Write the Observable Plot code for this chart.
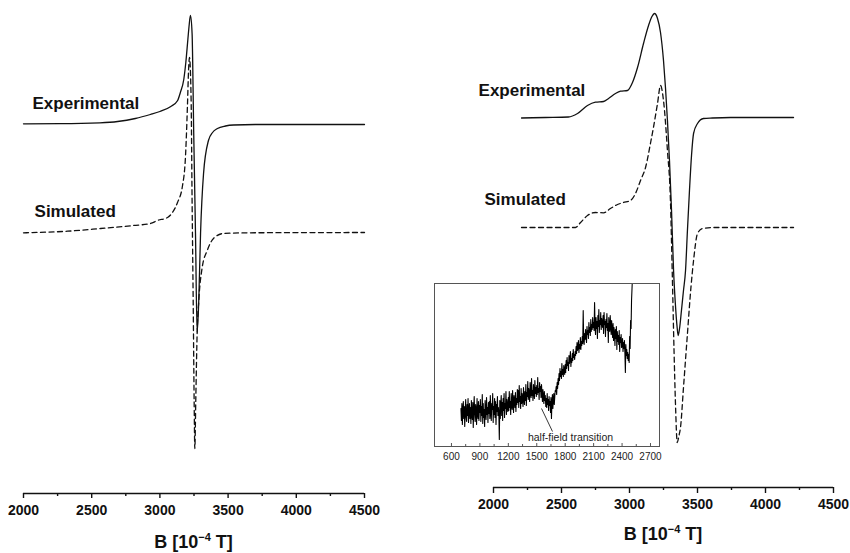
<!DOCTYPE html>
<html><head><meta charset="utf-8">
<script src="https://cdn.jsdelivr.net/npm/d3@7"></script>
<script src="https://cdn.jsdelivr.net/npm/@observablehq/plot@0.6"></script>
<style>
body{margin:0;background:#fff;}
#wrap{position:relative;width:850px;height:553px;overflow:hidden;background:#fff;}
#wrap > div{position:absolute;}
</style></head><body>
<div id="wrap"><div id="left" style="left:0;top:0"></div><div id="right" style="left:425px;top:0"></div><div id="inset" style="left:420px;top:270px"></div></div>
<script>
// ---------- data (B in 10^-4 T, intensity in arbitrary units) ----------
const majorTicks = [2000, 2500, 3000, 3500, 4000, 4500];
const minorTicks = [2250, 2750, 3250, 3750, 4250];
const insetMajorTicks = [600, 900, 1200, 1500, 1800, 2100, 2400, 2700];
const insetMinorTicks = [750, 1050, 1350, 1650, 1950, 2250, 2550];

// left panel
const leftExpB = [2000,2270,2560,2690,2820,2930,3000,3080,3130,3150,3175,3190,3205,3215,3224,3236,3248,3261,3273,3285,3298,3320,3356,3386,3422,3481,3540,3700,4500];
const leftExpI = [0.7,0.8,1.7,3,6,10,13,18,24,32,45,62,85,100,109,91,-9,-109,-208,-176,-109,-49,-16,-8,-4,-1.5,-0.5,0,0];
const leftSimB = [2000,2323,2565,2806,2931,2982,3056,3092,3129,3166,3188,3202,3210,3217,3229,3236,3244,3251,3256,3263,3273,3285,3310,3347,3393,3466,3664,4500];
const leftSimI = [-0.3,1.3,4,7,9,12,15,20,30,47,77,127,162,175,132,32,-68,-168,-216,-168,-101,-68,-35,-18,-6,-1,-0.3,0];

// right panel
const rightExpB = [2206,2382,2551,2618,2691,2750,2809,2846,2897,2934,2985,3022,3059,3103,3140,3165,3184,3206,3228,3250,3265,3279,3294,3309,3324,3338,3349,3358,3368,3382,3397,3412,3426,3441,3456,3471,3500,3544,3610,3743,4206];
const rightExpI = [-0.5,0,0.5,4,12,15.3,16,19,24,26.3,27,35,50,74,92,101,104,99,85,57,29,-3,-43,-93,-153,-188,-208,-218,-211,-193,-173,-153,-113,-73,-38,-16,-6,-1,-0.5,0,0];
const rightSimB = [2206,2603,2640,2691,2750,2809,2860,2912,2956,3007,3044,3081,3118,3154,3176,3206,3228,3250,3279,3301,3314,3328,3338,3351,3364,3375,3397,3424,3453,3471,3500,3537,3618,4206];
const rightSimI = [0,0,5,12,15,14.7,19,23,25,27,34,47,60,84,100,124,142,127,77,27,-43,-126,-176,-215,-208,-200,-160,-110,-58,-33,-6,-1,0,0];

// inset: half-field region, read every 5 units from 700
const insetStartB = 700, insetStepB = 5;
const insetI = [
 40,28,45,24,38,47,30,42,22,36,49,31,27,44,33,50,26,39,45,30,
 41,25,48,33,29,46,21,40,52,34,27,44,38,24,50,35,30,47,28,43,
 36,49,27,42,33,54,25,45,31,39,22,48,37,29,51,34,41,26,46,35,
 47,30,53,36,28,45,39,55,26,42,34,50,31,47,24,44,37,52,33,41,
 35,9,48,30,44,53,33,46,28,50,38,55,31,45,40,57,34,49,42,37,
 51,38,57,41,47,34,55,43,39,58,45,36,53,48,41,56,37,50,44,59,
 46,58,41,63,47,52,40,60,45,55,49,42,61,50,44,57,48,64,43,56,
 52,67,49,60,54,47,66,56,51,70,53,58,48,64,57,50,68,55,61,52,
 63,54,71,56,60,49,66,57,62,51,64,55,47,59,52,45,57,48,53,42,
 50,41,55,44,49,38,52,43,47,36,51,30,45,54,40,49,55,44,52,58,
 57,62,54,66,60,70,64,75,68,80,72,77,70,85,74,79,72,83,78,74,
 84,76,88,80,91,83,86,78,93,85,89,97,82,90,86,95,88,99,91,94,
 89,97,93,102,95,106,98,101,108,96,104,100,111,99,107,103,112,105,138,109,
 104,115,109,119,112,106,122,114,118,110,126,116,121,113,129,117,124,119,131,121,
 126,118,146,123,114,131,120,127,110,133,122,139,116,128,124,136,119,130,125,121,
 133,115,136,124,127,112,129,121,135,118,125,106,131,120,117,133,123,114,128,119,
 111,125,108,121,115,103,119,110,122,99,117,107,113,104,118,97,111,106,114,101,
 103,110,97,106,100,108,95,76,104,93,99,90,96,88,94,86,112,100,128,120,
 148,160,172
];

// ---------- drawing ----------
const font = "'Liberation Sans', Arial, Helvetica, sans-serif";
const ink = "#111";
const zip = (bs, is) => bs.map((b, i) => ({B: b, I: is[i]}));

function panel(opt) {
  const exp = zip(opt.expB, opt.expI);
  const sim = zip(opt.simB, opt.simI);
  const chart = Plot.plot({
    width: 425, height: 553,
    marginLeft: opt.mL, marginRight: opt.mR, marginTop: 0, marginBottom: opt.mB,
    style: {fontFamily: font, background: "transparent", overflow: "visible", color: ink},
    x: {domain: [2000, 4500]},
    y: {domain: opt.yDomain, axis: null},
    marks: [
      Plot.line(exp, {x: "B", y: "I", curve: "monotone-x", stroke: ink, strokeWidth: 1.3}),
      Plot.line(sim, {x: "B", y: d => d.I + opt.simOffset, curve: "monotone-x", stroke: ink, strokeWidth: 1.3, strokeDasharray: "5,3.5"}),
      Plot.ruleY([opt.yDomain[0]], {stroke: ink, strokeWidth: 1.4}),
      Plot.axisX({ticks: majorTicks, tickSize: opt.tickSize, tickPadding: opt.tickPad, tickFormat: d => String(d),
        fontSize: 14, fontWeight: "bold", stroke: ink, fill: ink, strokeWidth: 1.4, label: null}),
      Plot.axisX({ticks: minorTicks, tickSize: 3, tickFormat: () => "", stroke: ink, strokeWidth: 1.4, label: null}),
      Plot.text(opt.labels, {x: "B", y: "I", text: "t", textAnchor: "start", fontSize: 17, fontWeight: "bold", fill: ink})
    ]
  });
  const x = chart.scale("x");
  const cx = (x.range[0] + x.range[1]) / 2;
  const t = d3.select(chart).append("text")
    .attr("x", cx).attr("y", 553 - opt.mB + opt.labelDy)
    .attr("text-anchor", "middle").attr("font-family", font).attr("font-weight", "bold")
    .attr("font-size", 18).attr("fill", ink);
  t.append("tspan").text("B [10");
  t.append("tspan").attr("dy", -7).attr("font-size", 11).text("\u22124");
  t.append("tspan").attr("dy", 7).text(" T]");
  return chart;
}

document.getElementById("left").appendChild(panel({
  expB: leftExpB, expI: leftExpI, simB: leftSimB, simI: leftSimI, simOffset: -108,
  mL: 23, mR: 61, mB: 60, yDomain: [-369, 124], tickSize: 5, tickPad: 7, labelDy: 55,
  labels: [{B: 2066, I: 21, t: "Experimental"}, {B: 2081, I: -87, t: "Simulated"}]
}));

document.getElementById("right").appendChild(panel({
  expB: rightExpB, expI: rightExpI, simB: rightSimB, simI: rightSimI, simOffset: -110,
  mL: 68, mR: 17, mB: 66, yDomain: [-370, 117], tickSize: 6, tickPad: 6, labelDy: 53,
  labels: [{B: 1890, I: 27, t: "Experimental"}, {B: 1934, I: -82, t: "Simulated"}]
}));

const insetData = insetI.map((u, i) => ({B: insetStartB + i * insetStepB, u}));
const inset = Plot.plot({
  width: 250, height: 195, marginLeft: 14, marginRight: 11, marginTop: 13, marginBottom: 19,
  style: {fontFamily: font, background: "transparent", overflow: "visible", color: "#222"},
  x: {domain: [421, 2795]},
  y: {domain: [2, 165], axis: null},
  marks: [
    Plot.frame({fill: "white", stroke: "none"}),
    Plot.line(insetData, {x: "B", y: "u", stroke: "#000", strokeWidth: 1.1, clip: true}),
    Plot.frame({stroke: "#555", strokeWidth: 1}),
    Plot.ruleX(insetMajorTicks, {x: d => d, y1: 2, y2: 5, stroke: "#555"}),
    Plot.ruleX(insetMinorTicks, {x: d => d, y1: 2, y2: 4, stroke: "#555"}),
    Plot.axisX({ticks: insetMajorTicks, tickSize: 0, tickPadding: 6, fontSize: 10, fill: "#222", label: null, tickFormat: d => String(d)}),
    Plot.link([{x1: 1666, y1: 17, x2: 1550, y2: 40}], {x1: "x1", y1: "y1", x2: "x2", y2: "y2", stroke: "#222", strokeWidth: 0.9}),
    Plot.text([{B: 1856, u: 11, t: "half-field transition"}], {x: "B", y: "u", text: "t", fontSize: 10.5, fill: "#222"})
  ]
});
document.getElementById("inset").appendChild(inset);
</script>
</body></html>
